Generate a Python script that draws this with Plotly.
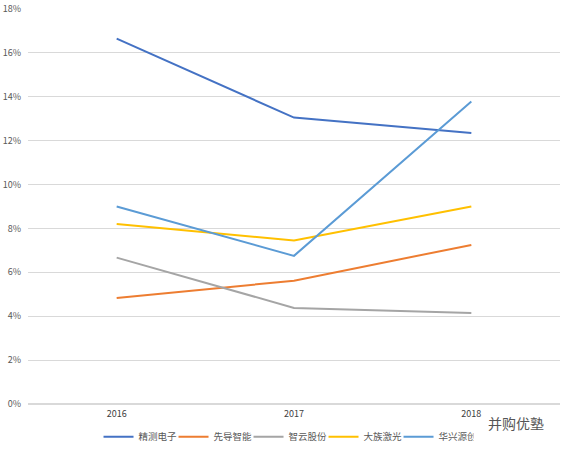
import plotly.graph_objects as go

years = ['2016', '2017', '2018']
jingce = [0.1665, 0.1305, 0.1235]
xiandao = [0.0483, 0.0562, 0.0725]
zhiyun = [0.0667, 0.0438, 0.0415]
dazu = [0.0820, 0.0745, 0.0900]
huaxing = [0.0900, 0.0675, 0.1378]

series = [
    ('精测电子', jingce, '#4472C4'),
    ('先导智能', xiandao, '#ED7D31'),
    ('智云股份', zhiyun, '#A5A5A5'),
    ('大族激光', dazu, '#FFC000'),
    ('华兴源创', huaxing, '#5B9BD5'),
]

fig = go.Figure()
for name, vals, color in series:
    fig.add_trace(go.Scatter(x=years, y=vals, name=name, mode='lines',
                             line=dict(color=color, width=2)))

fig.update_layout(
    width=561, height=449,
    margin=dict(l=28, r=1, t=9, b=45, autoexpand=False),
    plot_bgcolor='white', paper_bgcolor='white',
    font=dict(family='Noto Sans CJK SC, Liberation Sans', size=9, color='#595959'),
    showlegend=True,
    legend=dict(orientation='h', x=0.485, xanchor='center', y=-0.046, yanchor='top',
                font=dict(size=9.5, color='#595959'), itemwidth=30,
                entrywidth=30, entrywidthmode='pixels', tracegroupgap=0),
)
fig.update_xaxes(type='category', range=[-0.5, 2.5], showgrid=False, showline=False,
                 ticks='', ticklabelstandoff=3, automargin=False,
                 tickfont=dict(size=9, color='#404040'))
fig.update_yaxes(range=[0, 0.18], dtick=0.02, tickformat='.0%', showgrid=True,
                 gridcolor='#D9D9D9', gridwidth=1, zeroline=True, zerolinecolor='#D9D9D9',
                 showline=False, ticks='', ticklabelstandoff=6, automargin=False,
                 tickfont=dict(size=9, color='#595959'))

fig.add_annotation(text='并购优塾', xref='paper', yref='paper', x=0.918, y=-0.048,
                   xanchor='center', yanchor='middle', showarrow=False,
                   font=dict(size=14, color='#555555'))

# drop the default 8px body margin so the figure sits at the window's corner
fig.write_html('out.html', config={'displayModeBar': False},
               post_script="document.body.style.margin='0';")
